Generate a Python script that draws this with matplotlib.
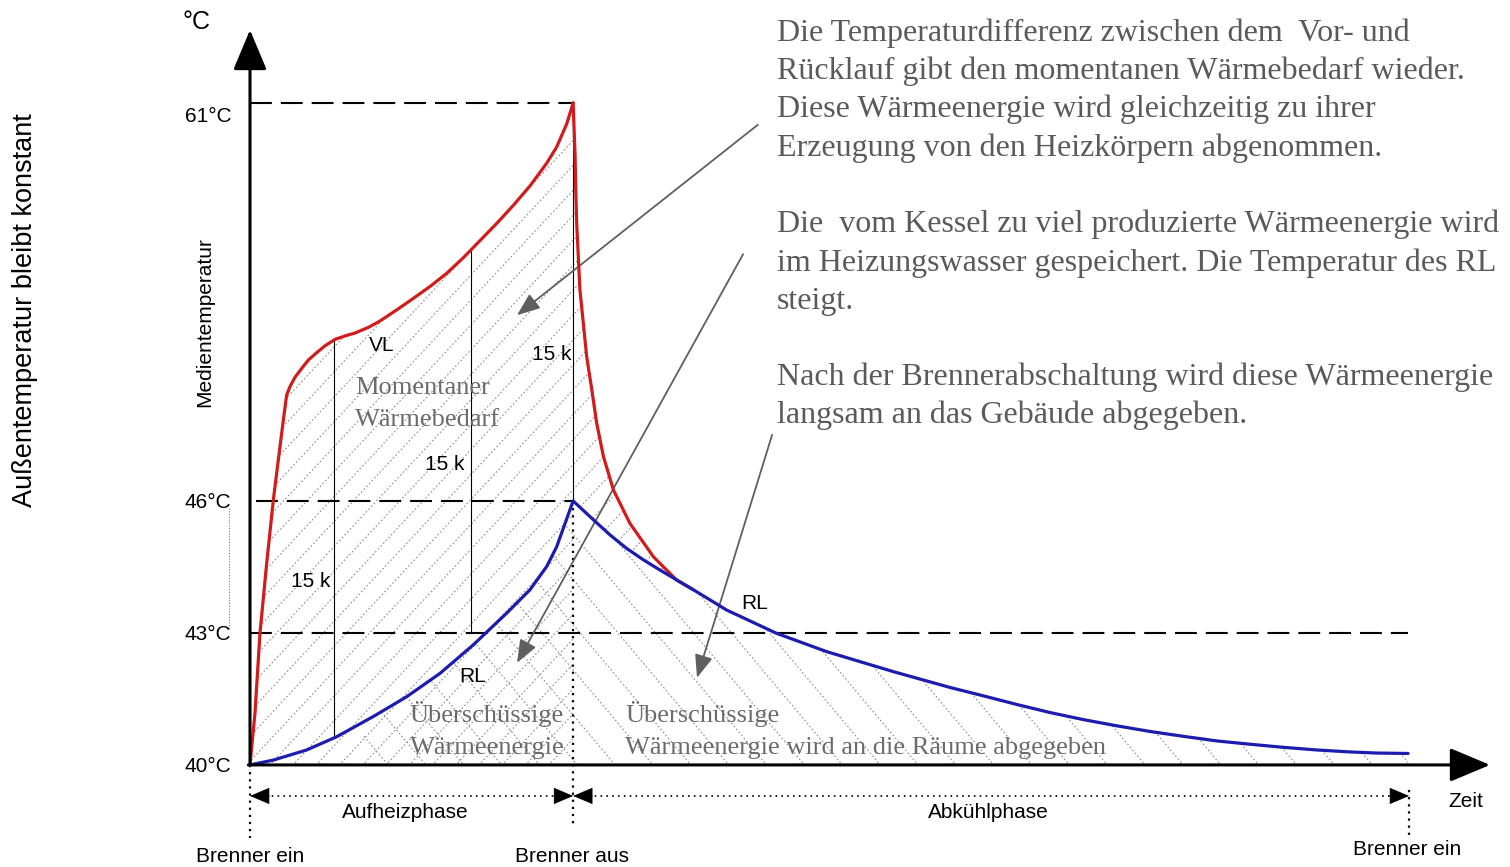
import numpy as np
import matplotlib
matplotlib.use("Agg")
import matplotlib.pyplot as plt
from matplotlib.collections import LineCollection
from matplotlib.patches import Polygon
from matplotlib.transforms import ScaledTranslation

SANS = "Liberation Sans"
SERIF = "Liberation Serif"

# ---------------------------------------------------------------- data
# time in arbitrary units: burner on at 0, off at ~10, on again at ~36
t_burner_off = 10.02
t_burner_on = 35.94

# supply temperature (VL) during heating
vl_heat_t = [0.0, 0.155, 0.31, 0.517, 0.724, 0.826, 0.93, 1.034, 1.137, 1.24,
             1.395, 1.60, 1.81, 2.07, 2.33, 2.64, 2.95, 3.26, 3.67, 4.03,
             4.55, 5.06, 5.58, 6.10, 6.61, 6.875, 7.13, 7.65, 8.165, 8.68,
             9.2, 9.51, 9.82, 10.02]
vl_heat_T = [40.0, 41.18, 43.0, 44.58, 46.04, 47.04, 48.05, 49.05, 49.99,
             50.31, 50.66, 50.99, 51.31, 51.59, 51.85, 52.09, 52.22, 52.33,
             52.54, 52.78, 53.20, 53.63, 54.08, 54.58, 55.16, 55.49, 55.81,
             56.46, 57.14, 57.87, 58.73, 59.34, 60.21, 61.0]

# supply temperature (VL) after burner shut-off
vl_cool_t = [10.02, 10.05, 10.08, 10.10, 10.13, 10.18, 10.23, 10.44, 10.60,
             10.75, 10.96, 11.27, 11.78, 12.51, 13.23, 13.75]
vl_cool_T = [61.0, 60.0, 59.0, 57.73, 56.47, 55.21, 53.96, 51.44, 50.18,
             48.93, 47.67, 46.41, 45.49, 44.73, 44.2, 43.98]

# return temperature (RL) during heating
rl_heat_t = [0.0, 0.724, 1.757, 2.687, 3.824, 4.858, 5.89, 6.925, 7.96, 8.68,
             9.2, 9.51, 9.77, 10.02]
rl_heat_T = [40.0, 40.11, 40.34, 40.64, 41.10, 41.55, 42.08, 42.73, 43.45,
             43.98, 44.51, 44.96, 45.49, 46.0]

# return temperature (RL) during cooling
rl_cool_t = [10.02, 10.65, 11.16, 11.68, 12.2, 12.71, 13.75, 14.78, 16.33,
             17.88, 19.95, 21.71, 22.74, 23.77, 24.81, 25.84, 26.87, 27.91,
             28.94, 29.98, 31.01, 32.04, 33.08, 34.11, 34.94, 35.91]
rl_cool_T = [46.0, 45.57, 45.23, 44.92, 44.66, 44.43, 43.98, 43.52, 42.99,
             42.575, 42.12, 41.76, 41.57, 41.375, 41.19, 41.03, 40.89, 40.76,
             40.65, 40.545, 40.47, 40.40, 40.34, 40.295, 40.27, 40.26]

levels = [40, 43, 46, 61]
level_labels = ["40°C", "43°C", "46°C", "61°C"]
delta_label = "15 k"

note_text = ("Die Temperaturdifferenz zwischen dem  Vor- und\n"
             "Rücklauf gibt den momentanen Wärmebedarf wieder.\n"
             "Diese Wärmeenergie wird gleichzeitig zu ihrer\n"
             "Erzeugung von den Heizkörpern abgenommen.\n"
             "\n"
             "Die  vom Kessel zu viel produzierte Wärmeenergie wird\n"
             "im Heizungswasser gespeichert. Die Temperatur des RL\n"
             "steigt.\n"
             "\n"
             "Nach der Brennerabschaltung wird diese Wärmeenergie\n"
             "langsam an das Gebäude abgegeben.")

# ---------------------------------------------------------------- scale
# schematic temperature axis: 40..46 °C stretched, 46..61 °C compressed
K = 0.603


def fwd(T):
    T = np.asarray(T, dtype=float)
    return np.where(T <= 46, T - 40, 6 + (T - 46) * K)


def inv(u):
    u = np.asarray(u, dtype=float)
    return np.where(u <= 6, u + 40, 46 + (u - 6) / K)


W, H = 1510, 867
fig = plt.figure(figsize=(W / 100, H / 100), dpi=100)
ax = fig.add_axes([250 / W, 0, 1 - 250 / W, 1])
ax.set_yscale("function", functions=(fwd, inv))
for s in ax.spines.values():
    s.set_visible(False)
ax.set_xticks([])

RED = "#d21c1c"
BLUE = "#1c1cae"
GREY_TXT = "#5a5a5a"
HATCH = "#8f8f8f"

vl_heat_t = np.array(vl_heat_t); vl_heat_T = np.array(vl_heat_T)
vl_cool_t = np.array(vl_cool_t); vl_cool_T = np.array(vl_cool_T)
rl_heat_t = np.array(rl_heat_t); rl_heat_T = np.array(rl_heat_T)
rl_cool_t = np.array(rl_cool_t); rl_cool_T = np.array(rl_cool_T)
rl_t = np.concatenate([rl_heat_t, rl_cool_t[1:]])
rl_T = np.concatenate([rl_heat_T, rl_cool_T[1:]])


# ---------------------------------------------------------------- hatching
def hatch_region(verts, angle, spacing):
    patch = Polygon(verts, closed=True, facecolor="none", edgecolor="none",
                    transform=ax.transData)
    ax.add_patch(patch)
    w, h = fig.get_size_inches()
    L = np.hypot(w, h)
    th = np.deg2rad(angle)
    d = np.array([np.cos(th), np.sin(th)])
    n = np.array([-np.sin(th), np.cos(th)])
    c0 = np.array([w / 2, h / 2])
    segs = [[c0 + o * n - L * d, c0 + o * n + L * d]
            for o in np.arange(-L, L, spacing)]
    lc = LineCollection(segs, transform=fig.dpi_scale_trans, colors=HATCH,
                        linewidths=0.8, linestyles=[(0, (1.5, 2.0))])
    lc.set_clip_path(patch)
    ax.add_collection(lc, autolim=False)


# heating phase: whole area under VL
heat_poly = np.column_stack([
    np.concatenate([vl_heat_t, [t_burner_off, 0.0]]),
    np.concatenate([vl_heat_T, [40.0, 40.0]])])
hatch_region(heat_poly, 47, 0.17)

# cooling phase: area between VL and RL until they merge
merge_mask = rl_cool_t <= vl_cool_t[-1]
cool_poly = np.column_stack([
    np.concatenate([vl_cool_t, rl_cool_t[merge_mask][::-1]]),
    np.concatenate([vl_cool_T, rl_cool_T[merge_mask][::-1]])])
hatch_region(cool_poly, 47, 0.17)

# stored energy below RL
t_start = 3.5
mask = rl_t >= t_start
under_t = np.concatenate([[t_start], rl_t[mask], [rl_t[-1], t_start]])
under_T = np.concatenate([[np.interp(t_start, rl_t, rl_T)], rl_T[mask],
                          [40.0, 40.0]])
hatch_region(np.column_stack([under_t, under_T]), -50, 0.29)

# ---------------------------------------------------------------- guides
dash = dict(color="black", lw=1.5, dashes=(10.5, 4.3))
ax.plot([0, t_burner_off], [61, 61], **dash)
ax.plot([0.2, t_burner_off], [46, 46], **dash)
ax.plot([0, rl_cool_t[-1]], [43, 43], **dash)

thin = dict(color="black", lw=0.8)
t1 = 2.6
ax.plot([t1, t1], [np.interp(t1, rl_t, rl_T), np.interp(t1, vl_heat_t, vl_heat_T)], **thin)
t2 = 6.85
ax.plot([t2, t2], [43, np.interp(t2, vl_heat_t, vl_heat_T)], **thin)
ax.plot([t_burner_off, t_burner_off], [46, 61], **thin)

dots = dict(color="black", lw=1.6, ls=(0, (1, 2.2)), clip_on=False)
ax.plot([0, 0], [40, 38.34], **dots)
ax.plot([t_burner_off, t_burner_off], [46, 38.57], **dots)
ax.plot([t_burner_on, t_burner_on], [39.43, 38.34], **dots)
ax.plot([-0.66, -0.66], [45.85, 43.1], color="#777777", lw=0.8,
        ls=(0, (1, 1.5)), clip_on=False)

# ---------------------------------------------------------------- curves
ax.plot(vl_heat_t, vl_heat_T, color=RED, lw=2.3, solid_capstyle="round",
        solid_joinstyle="round", zorder=5)
ax.plot(vl_cool_t, vl_cool_T, color=RED, lw=2.3, solid_capstyle="round",
        solid_joinstyle="round", zorder=5)
ax.plot(rl_t, rl_T, color=BLUE, lw=2.3, solid_capstyle="round",
        solid_joinstyle="round", zorder=6)

# ---------------------------------------------------------------- axes arrows
ax.annotate("", xy=(0, 63.75), xytext=(0, 40), annotation_clip=False,
            arrowprops=dict(arrowstyle="-|>,head_length=25,head_width=10.5",
                            mutation_scale=1, color="black", lw=2.2,
                            shrinkA=0, shrinkB=0), zorder=7)
ax.annotate("", xy=(38.45, 40), xytext=(-0.05, 40), annotation_clip=False,
            arrowprops=dict(arrowstyle="-|>,head_length=25,head_width=10.5",
                            mutation_scale=1, color="black", lw=2.2,
                            shrinkA=0, shrinkB=0), zorder=7)

ax.set_yticks(levels, labels=level_labels)
ax.tick_params(axis="y", length=0, pad=13.5, labelsize=15)
for lab in ax.get_yticklabels():
    lab.set_fontfamily(SANS)
# the top label sits a little below its guide line
lab_top = ax.yaxis.get_major_ticks()[3].label1
lab_top.set_transform(lab_top.get_transform()
                      + ScaledTranslation(0, -12 / 100, fig.dpi_scale_trans))

# ---------------------------------------------------------------- phase arrows
y_phase = 39.295
ax.plot([0.3, t_burner_off - 0.3], [y_phase, y_phase], color="black", lw=1.2,
        ls=(0, (1, 2.5)))
ax.plot([t_burner_off + 0.3, t_burner_on - 0.3], [y_phase, y_phase],
        color="black", lw=1.2, ls=(0, (1, 2.5)))
head = dict(arrowstyle="-|>,head_length=13,head_width=5.5", mutation_scale=1,
            color="black", lw=0.5, shrinkA=0, shrinkB=0)
for tip, tail in [(0.0, 0.6), (t_burner_off, t_burner_off - 0.6),
                  (t_burner_off, t_burner_off + 0.6),
                  (t_burner_on, t_burner_on - 0.6)]:
    ax.annotate("", xy=(tip, y_phase), xytext=(tail, y_phase),
                arrowprops=head, annotation_clip=False)

lbl = dict(family=SANS, fontsize=15, color="black", ha="center", va="center")
ax.text(4.81, 38.91, "Aufheizphase", **lbl)
ax.text(22.88, 38.91, "Abkühlphase", **lbl)
ax.text(37.7, 39.18, "Zeit", **lbl)
ax.text(0.0, 37.93, "Brenner ein", **lbl)
ax.text(9.98, 37.93, "Brenner aus", **lbl)
ax.text(35.88, 38.07, "Brenner ein", **lbl)

# ---------------------------------------------------------------- curve labels
ax.text(4.09, 51.84, "VL", **lbl)
ax.text(6.91, 42.02, "RL", **lbl)
ax.text(15.66, 43.66, "RL", **lbl)
ax.text(1.89, 44.16, delta_label, **lbl)
ax.text(6.05, 47.36, delta_label, **lbl)
ax.text(9.36, 51.5, delta_label, **lbl)

area = dict(family=SERIF, fontsize=19, color="#6b6b6b", ha="left",
            va="center", linespacing=1.6)
ax.text(3.26, 49.65, "Momentaner\nWärmebedarf", **area)
ax.text(4.96, 40.8, "Überschüssige\nWärmeenergie", **area)
ax.text(11.63, 40.8, "Überschüssige\nWärmeenergie wird an die Räume abgegeben",
        **area)

# ---------------------------------------------------------------- callouts
call = dict(arrowstyle="-|>,head_length=14,head_width=5.5", mutation_scale=1,
            color="#5f5f5f", lw=1.3, shrinkA=0, shrinkB=0)
ax.annotate("", xy=(8.28, 53.0), xytext=(15.75, 60.18), arrowprops=call)
ax.annotate("", xy=(8.28, 42.32), xytext=(15.29, 55.3), arrowprops=call)
ax.annotate("", xy=(13.86, 41.98), xytext=(16.19, 48.49), arrowprops=call)

ax.set_xlim(0, (W - 250) / 32.25)
ax.set_ylim(37.68, 64.88)

# ---------------------------------------------------------------- figure text
fig.text(196 / W, 1 - 22 / H, "°C", family=SANS, fontsize=18,
         ha="center", va="center")
fig.text(205 / W, 1 - 322 / H, "Medientemperatur", family=SANS, fontsize=15,
         rotation=90, ha="center", va="center")
fig.text(25 / W, 1 - 310 / H, "Außentemperatur bleibt konstant", family=SANS,
         fontsize=19.5, rotation=90, ha="center", va="center")
fig.text(777 / W, 1 - 18 / H, note_text, family=SERIF, fontsize=23,
         color=GREY_TXT, ha="left", va="top", linespacing=1.40)

fig.savefig("out.png", dpi=100, facecolor="white")
